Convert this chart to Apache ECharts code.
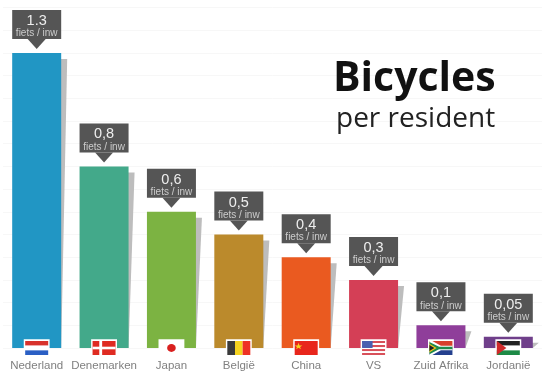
<!DOCTYPE html>
<html>
<head>
<meta charset="utf-8">
<style>
    html, body { margin: 0; padding: 0; background: #fff; }
    #chart { width: 544px; height: 385px; }
</style>
<script src="https://cdn.jsdelivr.net/npm/echarts@6/dist/echarts.min.js"></script>
</head>
<body>
<div id="chart"></div>
<script>
// 数据
const categories = ['Nederland', 'Denemarken', 'Japan', 'België', 'China', 'VS', 'Zuid Afrika', 'Jordanië'];
const values = [1.3, 0.8, 0.6, 0.5, 0.4, 0.3, 0.1, 0.05];
const valueLabels = ['1.3', '0,8', '0,6', '0,5', '0,4', '0,3', '0,1', '0,05'];
const unitLabel = 'fiets / inw';
const barColors = ['#2196c4', '#43a98a', '#7cb342', '#bb8a2c', '#ea5a20', '#d43f56', '#8f3e9a', '#6f3f8a'];
const flagCodes = ['nl', 'dk', 'jp', 'be', 'cn', 'us', 'za', 'jo'];

const BAR_WIDTH = 49;

// 国旗，坐标是 24x16 内的相对位置
function rect(x, y, w, h, fill) {
    return { type: 'rect', shape: { x, y, width: w, height: h }, style: { fill } };
}
function poly(points, fill) {
    return { type: 'polygon', shape: { points }, style: { fill } };
}
const flags = {
    nl: [rect(0, 0, 24, 5.3, '#d8322c'), rect(0, 5.3, 24, 5.4, '#fff'), rect(0, 10.7, 24, 5.3, '#2a5fc4')],
    dk: [rect(0, 0, 24, 16, '#df2b22'), rect(7, 0, 3, 16, '#fff'), rect(0, 6.5, 24, 3, '#fff')],
    jp: [rect(0, 0, 24, 16, '#fff'), { type: 'circle', shape: { cx: 12, cy: 8, r: 4.5 }, style: { fill: '#d9201f' } }],
    be: [rect(0, 0, 8, 16, '#3a3a3a'), rect(8, 0, 8, 16, '#f5d320'), rect(16, 0, 8, 16, '#ee3124')],
    cn: [rect(0, 0, 24, 16, '#e8261c'), poly([[4, 2], [5, 5], [8, 5], [5.6, 6.8], [6.5, 9.5], [4, 7.8], [1.5, 9.5], [2.4, 6.8], [0, 5], [3, 5]], '#f7d51d')],
    us: [
        rect(0, 0, 24, 16, '#fff'),
        rect(0, 0, 24, 2.3, '#d8505a'), rect(0, 4.6, 24, 2.3, '#d8505a'),
        rect(0, 9.2, 24, 2.3, '#d8505a'), rect(0, 13.7, 24, 2.3, '#d8505a'),
        rect(0, 0, 11, 8, '#4a5fb0')
    ],
    za: [
        rect(0, 0, 24, 8, '#d8402c'), rect(0, 8, 24, 8, '#24408e'),
        poly([[0, 0], [3, 0], [12, 5.5], [24, 5.5], [24, 10.5], [12, 10.5], [3, 16], [0, 16]], '#fff'),
        poly([[0, 1], [10, 6.5], [24, 6.5], [24, 9.5], [10, 9.5], [0, 15]], '#1f8a4c'),
        poly([[0, 3], [7.5, 8], [0, 13]], '#f5c518'),
        poly([[0, 4.5], [5.2, 8], [0, 11.5]], '#222')
    ],
    jo: [
        rect(0, 0, 24, 5.3, '#222'), rect(0, 5.3, 24, 5.4, '#fff'), rect(0, 10.7, 24, 5.3, '#1d8a46'),
        poly([[0, 0], [10, 8], [0, 16]], '#cf2a2a')
    ]
};

// 柱子右侧的灰色阴影
function renderShadow(params, api) {
    const top = api.coord([api.value(0), api.value(1)]);
    const base = api.coord([api.value(0), 0]);
    const right = top[0] + BAR_WIDTH / 2;
    return {
        type: 'polygon',
        shape: { points: [[right - 1, top[1] + 6], [right + 6, top[1] + 6], [right, base[1]], [right - 1, base[1]]] },
        style: { fill: '#bdbdbd' }
    };
}

// 柱子上方的深色标签
function renderCallout(params, api) {
    const i = params.dataIndex;
    const p = api.coord([api.value(0), api.value(1)]);
    const left = p[0] - BAR_WIDTH / 2;
    const boxTop = p[1] - 43;
    const boxBottom = p[1] - 14;
    return {
        type: 'group',
        children: [
            { type: 'rect', shape: { x: left, y: boxTop, width: BAR_WIDTH, height: 29 }, style: { fill: '#555555' } },
            { type: 'polygon', shape: { points: [[p[0] - 9, boxBottom], [p[0] + 9, boxBottom], [p[0], p[1] - 4]] }, style: { fill: '#555555' } },
            {
                type: 'text',
                style: { x: p[0], y: boxTop + 11, text: valueLabels[i], align: 'center', verticalAlign: 'middle', fill: '#eeeeee', font: '14.5px "Liberation Sans", Arial' }
            },
            {
                type: 'text',
                style: { x: p[0], y: boxTop + 23.5, text: unitLabel, align: 'center', verticalAlign: 'middle', fill: '#cccccc', font: '10px "Liberation Sans", Arial' }
            }
        ]
    };
}

// 柱子底部的国旗
function renderFlag(params, api) {
    const i = params.dataIndex;
    const p = api.coord([api.value(0), 0]);
    return {
        type: 'group',
        x: p[0] - 11.5,
        y: p[1] - 7,
        scaleX: 23 / 24,
        scaleY: 14 / 16,
        children: [
            { type: 'rect', shape: { x: -1.5, y: -2, width: 27, height: 20 }, style: { fill: '#fff' } }
        ].concat(flags[flagCodes[i]].map(function (item) {
            return Object.assign({}, item);
        }))
    };
}

const chartData = values.map(function (v, i) { return [i, v]; });

const option = {
    animation: false,
    backgroundColor: '#fff',
    grid: { left: 3, right: 2, top: 7.5, bottom: 37 },
    graphic: [
        {
            type: 'text', left: 333, top: 59, z: 10,
            style: { text: 'Bicycles', fill: '#111', font: 'bold 41px "Open Sans", "DejaVu Sans"' }
        },
        {
            type: 'text', left: 336, top: 105, z: 10,
            style: { text: 'per resident', fill: '#222', font: '28px "Open Sans", "DejaVu Sans"' }
        }
    ],
    xAxis: {
        type: 'category',
        data: categories,
        axisLine: { show: false },
        axisTick: { show: false },
        axisLabel: { color: '#808080', fontSize: 11.5, fontFamily: '"Liberation Sans", Arial', margin: 12, interval: 0 }
    },
    yAxis: {
        type: 'value',
        min: 0,
        max: 1.5,
        interval: 0.1,
        axisLine: { show: false },
        axisTick: { show: false },
        axisLabel: { show: false },
        splitLine: { lineStyle: { color: '#f7f7f7', width: 1 } }
    },
    series: [
        { type: 'custom', renderItem: renderShadow, data: chartData, z: 1, encode: { x: 0, y: 1 } },
        {
            type: 'bar',
            barWidth: BAR_WIDTH,
            z: 2,
            data: values.map(function (v, i) { return { value: v, itemStyle: { color: barColors[i] } }; })
        },
        { type: 'custom', renderItem: renderCallout, data: chartData, z: 3, encode: { x: 0, y: 1 } },
        { type: 'custom', renderItem: renderFlag, data: chartData, z: 4, encode: { x: 0, y: 1 } }
    ]
};

const myChart = echarts.init(document.getElementById('chart'));
myChart.setOption(option);
</script>
</body>
</html>
